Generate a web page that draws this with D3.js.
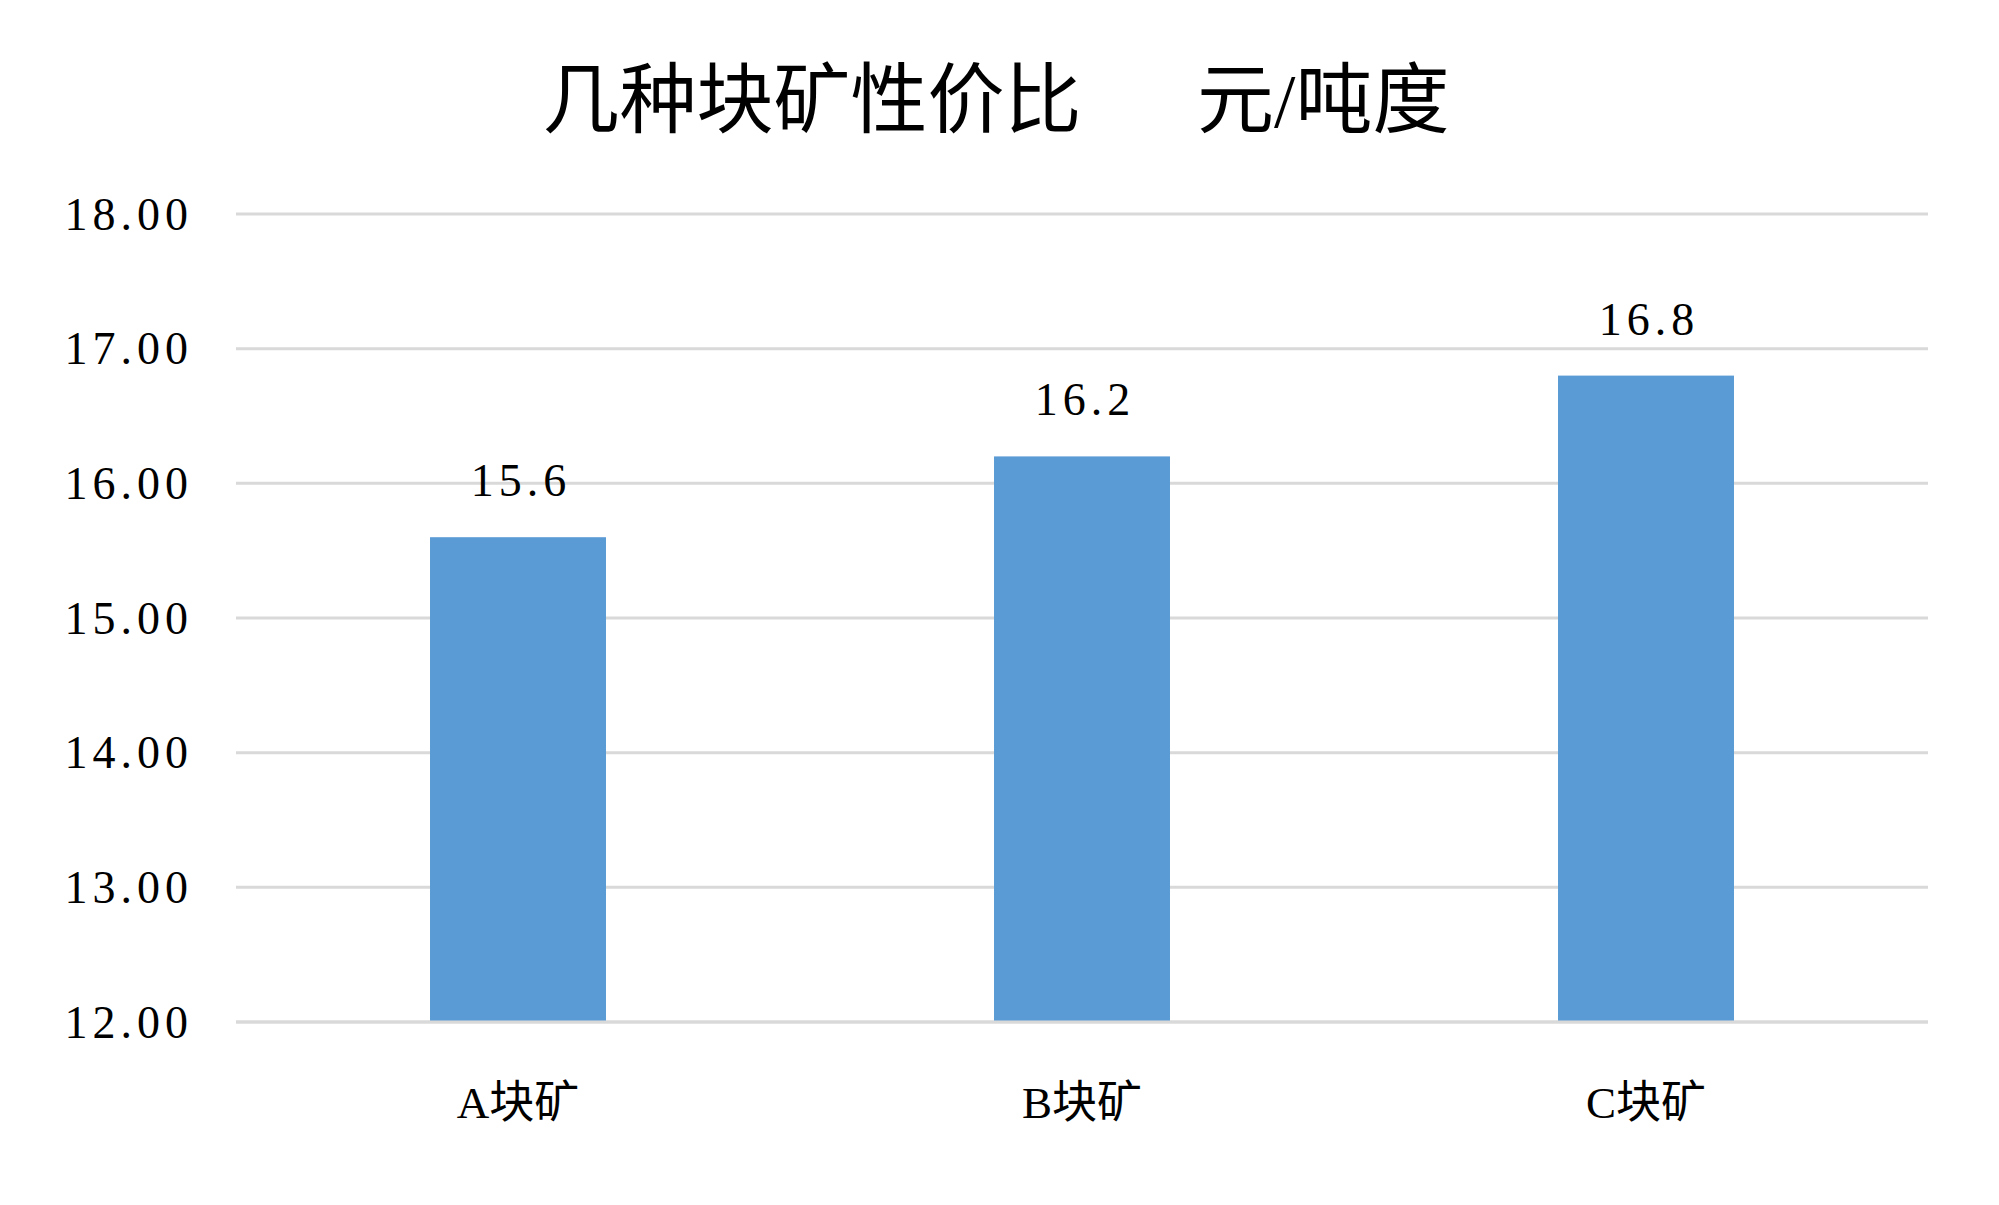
<!DOCTYPE html>
<html>
<head>
<meta charset="utf-8">
<script src="https://cdn.jsdelivr.net/npm/d3@7"></script>
<style>
  html, body { margin: 0; padding: 0; background: #fff; }
  text { font-family: "Liberation Serif", "Noto Sans CJK SC", serif; fill: #000; }
</style>
</head>
<body>
<script>
//
// DATA
//
const categories = ['A块矿', 'B块矿', 'C块矿']
const values = [15.6, 16.2, 16.8]
const yTicks = [12, 13, 14, 15, 16, 17, 18]
const title = '几种块矿性价比\u3000\u2002元/吨度'

//
// GLOBALS
//
const width = 1999
const height = 1205
const margin = { top: 214, right: 71, bottom: 183, left: 236 }

const svg = d3.select('body').append('svg')
    .attr('width', width)
    .attr('height', height)

// scales
const x = d3.scaleBand()
    .domain(categories)
    .range([margin.left, width - margin.right])
    .paddingInner(0.688)
    .paddingOuter(0.344)
const y = d3.scaleLinear()
    .domain([12, 18])
    .range([height - margin.bottom, margin.top])

// gridlines
svg.append('g')
    .selectAll('line')
    .data(yTicks)
    .join('line')
    .attr('x1', margin.left)
    .attr('x2', width - margin.right)
    .attr('y1', d => y(d))
    .attr('y2', d => y(d))
    .attr('stroke', '#d9d9d9')
    .attr('stroke-width', 3)

// y axis labels (letter-spacing mimics the wide period of the original font)
svg.append('g')
    .selectAll('text')
    .data(yTicks)
    .join('text')
    .attr('x', 193)
    .attr('y', d => y(d))
    .attr('dy', '0.34em')
    .attr('text-anchor', 'end')
    .style('font-size', '46px')
    .style('letter-spacing', '5px')
    .text(d => d.toFixed(2))

// bars
svg.append('g')
    .selectAll('rect')
    .data(values)
    .join('rect')
    .attr('x', (d, i) => x(categories[i]))
    .attr('width', x.bandwidth())
    .attr('y', d => y(d))
    .attr('height', d => y(12) - y(d))
    .attr('fill', '#5b9bd5')

// redraw the base line over the bars
svg.append('line')
    .attr('x1', margin.left)
    .attr('x2', width - margin.right)
    .attr('y1', y(12))
    .attr('y2', y(12))
    .attr('stroke', '#d9d9d9')
    .attr('stroke-width', 3)

// value labels
svg.append('g')
    .selectAll('text')
    .data(values)
    .join('text')
    .attr('x', (d, i) => x(categories[i]) + x.bandwidth() / 2 + 3)
    .attr('y', d => y(d) - 41)
    .attr('text-anchor', 'middle')
    .style('font-size', '46px')
    .style('letter-spacing', '5px')
    .text(d => d.toFixed(1))

// category labels
svg.append('g')
    .selectAll('text')
    .data(categories)
    .join('text')
    .attr('x', d => x(d) + x.bandwidth() / 2)
    .attr('y', 1118)
    .attr('text-anchor', 'middle')
    .style('font-size', '45px')
    .text(d => d)

// title
svg.append('text')
    .attr('x', 996)
    .attr('y', 127)
    .attr('text-anchor', 'middle')
    .style('font-size', '77px')
    .style('white-space', 'pre')
    .text(title)
</script>
</body>
</html>
